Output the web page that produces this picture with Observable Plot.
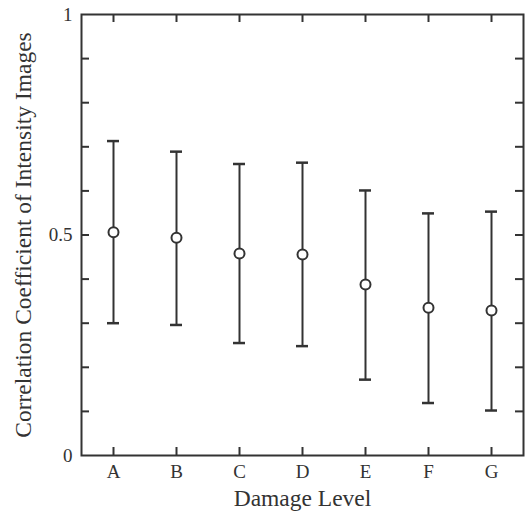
<!DOCTYPE html>
<html>
<head>
<meta charset="utf-8">
<script src="https://cdn.jsdelivr.net/npm/d3@7"></script>
<script src="https://cdn.jsdelivr.net/npm/@observablehq/plot@0.6"></script>
<style>
  body { margin: 0; background: #fff; }
  #chart svg { font-family: "Liberation Serif", "DejaVu Serif", serif; }
</style>
</head>
<body>
<div id="chart"></div>
<script>
const levels = ["A", "B", "C", "D", "E", "F", "G"];
const means  = [0.506, 0.494, 0.458, 0.456, 0.388, 0.335, 0.329];
const lower  = [0.300, 0.296, 0.255, 0.248, 0.172, 0.119, 0.102];
const upper  = [0.713, 0.689, 0.661, 0.664, 0.601, 0.549, 0.553];
const yLabelTicks = [0, 0.5, 1];
const yMinorTicks = [0.1, 0.2, 0.3, 0.4, 0.5, 0.6, 0.7, 0.8, 0.9];
const xTitle = "Damage Level";
const yTitle = "Correlation Coefficient of Intensity Images";

const data = levels.map((k, i) => ({level: k, mean: means[i], lo: lower[i], hi: upper[i]}));

const W = 525, H = 516;
const mL = 81, mR = 2, mT = 14, mB = 61;
const pw = W - mL - mR, ph = H - mT - mB;
const tickLen = 8;
const ink = "#333";

const chart = Plot.plot({
  width: W,
  height: H,
  marginLeft: mL,
  marginRight: mR,
  marginTop: mT,
  marginBottom: mB,
  style: {fontFamily: "Liberation Serif, serif", background: "#fff", color: ink},
  x: {type: "band", domain: levels, paddingInner: 0.81, paddingOuter: 0.405},
  y: {domain: [0, 1]},
  marks: [
    // y tick marks (inward, left and right)
    Plot.ruleY(yMinorTicks, {stroke: ink, strokeWidth: 2, insetRight: pw - tickLen}),
    Plot.ruleY(yMinorTicks, {stroke: ink, strokeWidth: 2, insetLeft: pw - tickLen}),
    // x tick marks (inward, bottom and top)
    Plot.ruleX(levels, {x: d => d, stroke: ink, strokeWidth: 2, insetTop: ph - tickLen}),
    Plot.ruleX(levels, {x: d => d, stroke: ink, strokeWidth: 2, insetBottom: ph - tickLen}),
    Plot.axisY(yLabelTicks, {
      tickSize: 0, tickPadding: 9, fontSize: 19, tickFormat: d => String(d), label: null
    }),
    Plot.axisX({tickSize: 0, tickPadding: 9, fontSize: 19, label: null}),
    Plot.text([yTitle], {
      frameAnchor: "left", textAnchor: "middle", rotate: -90, dx: -58, fontSize: 23.5, fill: ink
    }),
    Plot.text([xTitle], {
      frameAnchor: "bottom", textAnchor: "middle", dy: 50, fontSize: 23.5, fill: ink
    }),
    Plot.frame({stroke: ink, strokeWidth: 2}),
    // error bars
    Plot.ruleX(data, {x: "level", y1: "lo", y2: "hi", stroke: ink, strokeWidth: 2}),
    Plot.tickY(data, {x: "level", y: "lo", stroke: ink, strokeWidth: 2.5}),
    Plot.tickY(data, {x: "level", y: "hi", stroke: ink, strokeWidth: 2.5}),
    Plot.dot(data, {x: "level", y: "mean", r: 5, fill: "#fff", stroke: ink, strokeWidth: 2})
  ]
});

document.getElementById("chart").append(chart);
</script>
</body>
</html>
